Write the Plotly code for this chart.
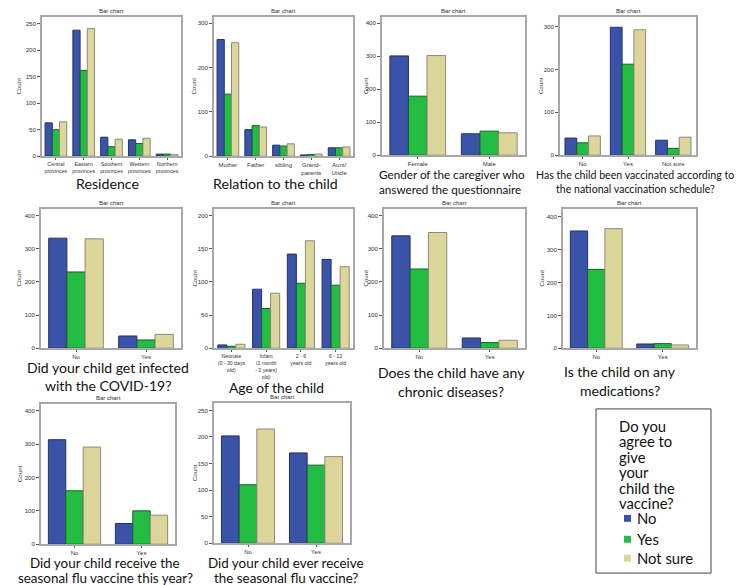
import plotly.graph_objects as go

W, H = 750, 585

series_names = ["No", "Yes", "Not sure"]
bar_colors = ["#3a52a8", "#24bd44", "#dcd69b"]
bar_lines = ["#26336a", "#1d5b2b", "#8c8a78"]

# ---- data ----
res_cats = ["Central<br>provinces", "Eastern<br>provinces", "Southern<br>provinces",
            "Western<br>provinces", "Northern<br>provinces"]
res_no = [63, 238, 36, 31, 4]
res_yes = [50, 162, 18, 24, 4]
res_ns = [65, 241, 32, 34, 3]

rel_cats = ["Mother", "Father", "sibling", "Grand-<br>parents", "Aunt/<br>Uncle"]
rel_no = [263, 60, 25, 3, 19]
rel_yes = [140, 69, 23, 4, 19]
rel_ns = [256, 66, 28, 5, 21]

gen_cats = ["Female", "Male"]
gen_no = [301, 65]
gen_yes = [179, 73]
gen_ns = [302, 68]

vac_cats = ["No", "Yes", "Not sure"]
vac_no = [40, 298, 35]
vac_yes = [29, 212, 16]
vac_ns = [45, 292, 42]

cov_cats = ["No", "Yes"]
cov_no = [332, 37]
cov_yes = [230, 25]
cov_ns = [330, 42]

age_cats = ["Neonate<br>(0 - 30 days<br>old)", "Infant<br>(1 month<br>- 2 years)<br>old)",
            "2 - 6<br>years old", "6 - 12<br>years old"]
age_no = [5, 89, 142, 134]
age_yes = [3, 60, 98, 95]
age_ns = [6, 83, 162, 123]

chr_cats = ["No", "Yes"]
chr_no = [339, 31]
chr_yes = [239, 17]
chr_ns = [349, 24]

med_cats = ["No", "Yes"]
med_no = [357, 13]
med_yes = [240, 14]
med_ns = [364, 10]

fly_cats = ["No", "Yes"]
fly_no = [313, 62]
fly_yes = [160, 100]
fly_ns = [291, 87]

fle_cats = ["No", "Yes"]
fle_no = [202, 170]
fle_yes = [110, 147]
fle_ns = [215, 163]

legend_title_lines = ["Do you", "agree to", "give", "your", "child the", "vaccine?"]

# ---- panel layout (pixel frames) ----
panels = [
    dict(cats=res_cats, vals=[res_no, res_yes, res_ns], box=(34, 173, 9, 149), ymax=263, dtick=50,
         count_x=11, xfont=5.3, caption=[("Residence", 99, 176, 14.2)]),
    dict(cats=rel_cats, vals=[rel_no, rel_yes, rel_ns], box=(206, 345, 9, 149), ymax=314, dtick=100,
         count_x=186, xfont=6.0, caption=[("Relation to the child", 267, 176, 14.2)]),
    dict(cats=gen_cats, vals=[gen_no, gen_yes, gen_ns], box=(374, 517, 9, 148), ymax=419, dtick=100,
         count_x=357, xfont=6.0, caption=[("Gender of the caregiver who", 444, 167, 11.7),
                                          ("answered the questionnaire", 442, 182, 11.7)]),
    dict(cats=vac_cats, vals=[vac_no, vac_yes, vac_ns], box=(552, 688, 9, 148), ymax=322, dtick=100,
         count_x=532, xfont=6.0, caption=[("Has the child been vaccinated according to", 627, 168, 10.6),
                                          ("the national vaccination schedule?", 627, 182, 10.6)]),
    dict(cats=cov_cats, vals=[cov_no, cov_yes, cov_ns], box=(33, 173, 202, 342), ymax=420, dtick=100,
         count_x=11, xfont=6.0, caption=[("Did your child get infected", 100, 361, 14),
                                         ("with the COVID-19?", 100, 379, 14)]),
    dict(cats=age_cats, vals=[age_no, age_yes, age_ns], box=(206, 345, 202, 342), ymax=210, dtick=50,
         count_x=187, xfont=5.2, caption=[("Age of the child", 268, 381, 13.8)]),
    dict(cats=chr_cats, vals=[chr_no, chr_yes, chr_ns], box=(376, 517, 202, 342), ymax=420, dtick=100,
         count_x=358, xfont=6.0, caption=[("Does the child have any", 443, 366, 14),
                                          ("chronic diseases?", 443, 385, 14)]),
    dict(cats=med_cats, vals=[med_no, med_yes, med_ns], box=(555, 688, 202, 342), ymax=424, dtick=100,
         count_x=534, xfont=6.0, caption=[("Is the child on any", 612, 365, 14),
                                          ("medications?", 612, 384, 14)]),
    dict(cats=fly_cats, vals=[fly_no, fly_yes, fly_ns], box=(33, 167, 398, 539), ymax=420, dtick=100,
         count_x=11, xfont=6.0, caption=[("Did your child receive the", 97, 558, 13.4),
                                         ("seasonal flu vaccine this year?", 97, 573, 13.4)]),
    dict(cats=fle_cats, vals=[fle_no, fle_yes, fle_ns], box=(206, 342, 397, 538), ymax=264, dtick=50,
         count_x=186, xfont=6.0, caption=[("Did your child ever receive", 278, 558, 13.4),
                                          ("the seasonal flu vaccine?", 278, 573, 13.4)]),
]

fig = go.Figure()
annotations = []
shapes = []
layout_axes = {}

SMALL = "Liberation Sans, Arial, sans-serif"
FRAME = "#a8a8a8"
CAP_FONT = "Lato, Calibri, sans-serif"

for i, p in enumerate(panels):
    n = i + 1
    xa = "x" if n == 1 else f"x{n}"
    ya = "y" if n == 1 else f"y{n}"
    l, r, t, b = p["box"]
    for s in range(3):
        fig.add_trace(go.Bar(
            x=p["cats"], y=p["vals"][s], name=series_names[s],
            marker=dict(color=bar_colors[s], line=dict(color=bar_lines[s], width=1)),
            xaxis=xa, yaxis=ya, showlegend=False, hoverinfo="x+y+name",
        ))
    layout_axes["xaxis" if n == 1 else f"xaxis{n}"] = dict(
        domain=[l / W, r / W], anchor=ya, type="category", tickangle=0,
        showline=True, linecolor=FRAME, linewidth=1.5, mirror=True,
        ticks="outside", ticklen=2, tickcolor="#555555",
        tickfont=dict(family=SMALL, size=p["xfont"], color="#333333"),
        showgrid=False, zeroline=False, fixedrange=True,
    )
    layout_axes["yaxis" if n == 1 else f"yaxis{n}"] = dict(
        domain=[1 - b / H, 1 - t / H], anchor=xa, range=[0, p["ymax"]],
        dtick=p["dtick"], tick0=0,
        showline=True, linecolor=FRAME, linewidth=1.5, mirror=True,
        ticks="outside", ticklen=3, tickcolor="#555555",
        tickfont=dict(family=SMALL, size=6.2, color="#333333"),
        showgrid=False, zeroline=False, fixedrange=True,
    )
    # small "Bar chart" title
    annotations.append(dict(
        text="Bar chart", x=(l + r) / 2 / W, y=1 - (t - 1) / H, xref="paper", yref="paper",
        xanchor="center", yanchor="bottom", showarrow=False,
        font=dict(family=SMALL, size=6, color="#333333"),
    ))
    # "Count" axis label
    annotations.append(dict(
        text="Count", x=p["count_x"] / W, y=1 - ((t + b) / 2) / H, xref="paper", yref="paper",
        xanchor="center", yanchor="middle", textangle=-90, showarrow=False,
        font=dict(family=SMALL, size=6.2, color="#333333"),
    ))
    for text, cx, cy, size in p["caption"]:
        annotations.append(dict(
            text=text, x=cx / W, y=1 - cy / H, xref="paper", yref="paper",
            xanchor="center", yanchor="middle", showarrow=False,
            font=dict(family=CAP_FONT, size=size, color="#111111"),
        ))

# ---- legend box ----
shapes.append(dict(type="rect", xref="paper", yref="paper",
                   x0=588 / W, x1=703 / W, y0=1 - 568 / H, y1=1 - 403 / H,
                   line=dict(color="#444444", width=1), fillcolor="rgba(0,0,0,0)"))
for k, line in enumerate(legend_title_lines):
    annotations.append(dict(
        text=line, x=609 / W, y=1 - (420 + k * 15.5) / H, xref="paper", yref="paper",
        xanchor="left", yanchor="middle", showarrow=False,
        font=dict(family=CAP_FONT, size=14.8, color="#111111"),
    ))
item_y = [513, 534, 553]
for s in range(3):
    cy = item_y[s]
    shapes.append(dict(type="rect", xref="paper", yref="paper",
                       x0=616 / W, x1=623 / W, y0=1 - (cy + 3.5) / H, y1=1 - (cy - 3.5) / H,
                       line=dict(width=0), fillcolor=bar_colors[s]))
    annotations.append(dict(
        text=series_names[s], x=627 / W, y=1 - cy / H, xref="paper", yref="paper",
        xanchor="left", yanchor="middle", showarrow=False,
        font=dict(family=CAP_FONT, size=14.8, color="#111111"),
    ))

fig.update_layout(
    width=W, height=H, margin=dict(l=0, r=0, t=0, b=0),
    paper_bgcolor="white", plot_bgcolor="white",
    barmode="group", bargap=0.22, bargroupgap=0,
    annotations=annotations, shapes=shapes, showlegend=False,
    **layout_axes,
)

fig.write_html("out.html")
